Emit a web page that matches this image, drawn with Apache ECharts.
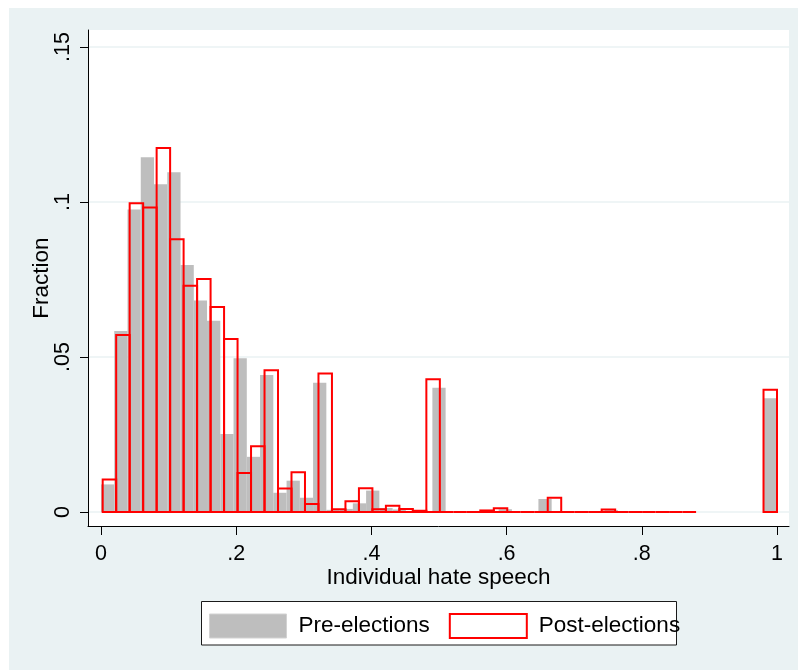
<!DOCTYPE html>
<html>
<head>
<meta charset="utf-8">
<title>Individual hate speech</title>
<script src="https://cdn.jsdelivr.net/npm/echarts@6/dist/echarts.min.js"></script>
<style>
  html, body { margin: 0; padding: 0; background: #ffffff; }
  #wrap { position: relative; width: 798px; height: 670px; }
  #panel { position: absolute; left: 9px; top: 8px; right: 0; bottom: 0; background: #EAF2F3; }
  #chart { position: absolute; left: 0; top: 0; width: 798px; height: 670px; }
</style>
</head>
<body>
<div id="wrap">
  <div id="panel"></div>
  <div id="chart"></div>
</div>
<script>
// Fraction of users per bin of individual hate speech share.
// Pre-elections: 51 equal bins starting at 0.
const preBinStart = 0;
const preBinWidth = 1 / 51;
const preFraction = [
  0.0089, 0.0584, 0.0976, 0.1144, 0.1057, 0.1096, 0.0797, 0.0682, 0.0617, 0.0252,
  0.0496, 0.0178, 0.0442, 0.0062, 0.0101, 0.0046, 0.0417, 0.0007, 0.0010, 0.0028,
  0.0069, 0.0013, 0.0008, 0.0003, 0,      0.0401, 0,      0,      0,      0.0003,
  0.0009, 0,      0,      0.0042, 0,      0,      0,      0,      0.0006, 0,
  0,      0,      0,      0,      0,      0,      null,   null,   null,   null,
  0.0367
];

// Post-elections: 50 equal bins starting at the smallest observed share.
const postBinStart = 0.0025;
const postBinWidth = (1 - 0.0025) / 50;
const postFraction = [
  0.0105, 0.0571, 0.0996, 0.0982, 0.1174, 0.0880, 0.0730, 0.0752, 0.0661, 0.0558,
  0.0126, 0.0212, 0.0457, 0.0076, 0.0128, 0.0026, 0.0447, 0.0009, 0.0035, 0.0077,
  0.0009, 0.0020, 0.0010, 0.0004, 0.0428, 0,      0,      0,      0.0005, 0.0012,
  0,      0,      0,      0.0046, 0,      0,      0,      0.0008, 0,      0,
  0,      0,      0,      0,      null,   null,   null,   null,   null,   0.0394
];

const seriesNames = ['Pre-elections', 'Post-elections'];
const xTickValues = [0, 0.2, 0.4, 0.6, 0.8, 1];
const xTickLabels = ['0', '.2', '.4', '.6', '.8', '1'];
const yTickValues = [0, 0.05, 0.1, 0.15];
const yTickLabels = ['0', '.05', '.1', '.15'];

const FONT = "'Liberation Sans', Arial, Helvetica, sans-serif";

// Turn bin heights into [left edge, right edge, height] rows.
function toBins(start, width, heights) {
  const rows = [];
  heights.forEach(function (h, k) {
    if (h === null) return;
    rows.push([start + k * width, start + (k + 1) * width, h]);
  });
  return rows;
}

function barRenderer(style) {
  return function (params, api) {
    const topLeft = api.coord([api.value(0), api.value(2)]);
    const bottomRight = api.coord([api.value(1), 0]);
    return {
      type: 'rect',
      shape: {
        x: topLeft[0],
        y: topLeft[1],
        width: bottomRight[0] - topLeft[0],
        height: bottomRight[1] - topLeft[1]
      },
      style: style
    };
  };
}

function labelFor(values, labels) {
  return function (v) {
    for (let i = 0; i < values.length; i++) {
      if (Math.abs(values[i] - v) < 1e-9) return labels[i];
    }
    return '';
  };
}

const chart = echarts.init(document.getElementById('chart'), null, { renderer: 'canvas' });

chart.setOption({
  backgroundColor: 'transparent',
  animation: false,
  textStyle: { fontFamily: FONT },
  grid: {
    left: 88, right: 9, top: 30, bottom: 144,
    show: true, backgroundColor: '#ffffff', borderWidth: 0,
    containLabel: false, outerBoundsMode: 'none'
  },
  graphic: [{
    type: 'rect',
    z: 1,
    shape: { x: 201.5, y: 601.5, width: 475, height: 43.5 },
    style: { fill: '#ffffff', stroke: '#1a1a1a', lineWidth: 1 }
  }],
  legend: {
    show: true,
    left: 209, top: 613,
    padding: 0,
    itemWidth: 77, itemHeight: 24, itemGap: 19,
    selectedMode: false,
    textStyle: { fontFamily: FONT, fontSize: 22.5, color: '#000', padding: [0, 0, 0, 7] },
    data: [
      { name: seriesNames[0], icon: 'rect',
        itemStyle: { color: '#BEBEBE', borderColor: '#D2D2D2', borderWidth: 1 } },
      { name: seriesNames[1], icon: 'rect',
        itemStyle: { color: '#ffffff', borderColor: '#FF0000', borderWidth: 2 } }
    ]
  },
  xAxis: {
    type: 'value',
    min: -13 / 676,
    max: 1 + 12 / 676,
    axisLine: { show: true, onZero: false, lineStyle: { color: '#000', width: 1 } },
    axisTick: { show: true, customValues: xTickValues, length: 9, lineStyle: { color: '#000', width: 1 } },
    axisLabel: {
      customValues: xTickValues, formatter: labelFor(xTickValues, xTickLabels),
      fontSize: 21.5, color: '#000', margin: 17, fontFamily: FONT
    },
    splitLine: { show: false },
    name: 'Individual hate speech',
    nameLocation: 'middle',
    nameGap: 40,
    nameMoveOverlap: false,
    nameTextStyle: { fontSize: 22.5, color: '#000', fontFamily: FONT }
  },
  yAxis: {
    type: 'value',
    min: -14 / 3100,
    max: 0.15 + 17 / 3100,
    axisLine: { show: true, onZero: false, lineStyle: { color: '#000', width: 1 } },
    axisTick: { show: true, customValues: yTickValues, length: 8, lineStyle: { color: '#000', width: 1 } },
    axisLabel: {
      customValues: yTickValues, formatter: labelFor(yTickValues, yTickLabels),
      rotate: 90, fontSize: 21.5, color: '#000', margin: 14, fontFamily: FONT
    },
    splitLine: { show: true, lineStyle: { color: '#EAF2F3', width: 1.5 } },
    name: 'Fraction',
    nameLocation: 'middle',
    nameRotate: 90,
    nameGap: 35,
    nameMoveOverlap: false,
    nameTextStyle: { fontSize: 22.5, color: '#000', fontFamily: FONT }
  },
  series: [
    {
      name: seriesNames[0],
      type: 'custom',
      renderItem: barRenderer({ fill: '#BEBEBE', stroke: null }),
      encode: { x: [0, 1], y: 2 },
      itemStyle: { color: '#BEBEBE' },
      data: toBins(preBinStart, preBinWidth, preFraction),
      z: 2
    },
    {
      name: seriesNames[1],
      type: 'custom',
      renderItem: barRenderer({ fill: 'none', stroke: '#FF0000', lineWidth: 2 }),
      encode: { x: [0, 1], y: 2 },
      itemStyle: { color: '#FF0000' },
      data: toBins(postBinStart, postBinWidth, postFraction),
      z: 3
    }
  ]
});
</script>
</body>
</html>
